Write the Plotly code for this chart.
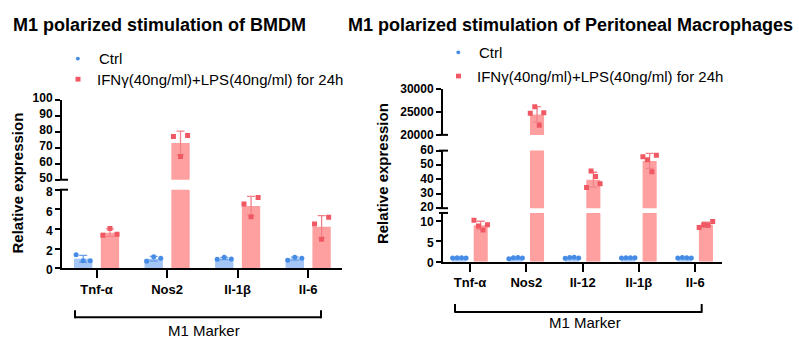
import numpy as np
import plotly.graph_objects as go

# ---------------- data ----------------
left_categories = ["Tnf-α", "Nos2", "Il-1β", "Il-6"]
left_ctrl_points = [[1.37, 0.76, 0.76], [0.72, 1.18, 1.02], [0.92, 1.13, 0.93], [0.82, 1.12, 1.02]]
left_ifn_points = [[3.36, 4.06, 3.45], [77.0, 64.5, 77.6], [6.55, 5.25, 7.2], [4.5, 2.95, 5.2]]
left_lower_ticks = [0, 2, 4, 6, 8]
left_upper_ticks = [50, 60, 70, 80, 90, 100]

right_categories = ["Tnf-α", "Nos2", "Il-12", "Il-1β", "Il-6"]
right_ctrl_points = [[0.95, 1.0, 1.02, 0.95], [0.75, 0.98, 1.08, 0.95], [0.9, 1.05, 1.1, 0.95],
                     [0.95, 1.0, 0.98, 1.0], [0.92, 1.05, 1.0, 0.95]]
right_ifn_points = [[10.2, 8.8, 7.8, 9.1], [24700, 26100, 22100, 24800], [34.3, 45.9, 42.0, 37.0],
                    [55.8, 53.6, 45.3, 56.7], [8.4, 9.1, 9.0, 9.9]]
right_bottom_ticks = [0, 5, 10]
right_middle_ticks = [20, 30, 40, 50, 60]
right_top_ticks = [20000, 25000, 30000]

series_names = ["Ctrl", "IFNγ(40ng/ml)+LPS(40ng/ml) for 24h"]
left_title = "M1 polarized stimulation of BMDM"
right_title = "M1 polarized stimulation of Peritoneal Macrophages"
y_title = "Relative expression"
group_label = "M1 Marker"

# ---------------- style ----------------
W, H = 799, 350
FONT = "Liberation Sans, Arial, sans-serif"
CTRL_BAR = "rgb(163,198,244)"
CTRL_PT = "rgb(70,140,230)"
CTRL_ERR = "rgb(110,160,230)"
IFN_BAR = "rgb(255,160,160)"
IFN_PT = "rgb(240,88,100)"
IFN_ERR = "rgb(242,130,138)"


def X(px):
    return px / W


def Y(py):
    return 1 - py / H


fig = go.Figure()


def add_panel(cats, ctrl_pts, ifn_pts, xname, ynames, jitter, off, bw):
    idx = np.arange(len(cats))
    ctrl_mean = [np.mean(p) for p in ctrl_pts]
    ifn_mean = [np.mean(p) for p in ifn_pts]
    ctrl_sd = [np.std(p, ddof=1) for p in ctrl_pts]
    ifn_sd = [np.std(p, ddof=1) for p in ifn_pts]
    cx, cy, ix, iy = [], [], [], []
    for i in idx:
        for j, v in enumerate(ctrl_pts[i]):
            cx.append(i - off + jitter[j]); cy.append(v)
        for j, v in enumerate(ifn_pts[i]):
            ix.append(i + off + jitter[j]); iy.append(v)
    for yn in ynames:
        fig.add_trace(go.Bar(x=idx - off, y=ctrl_mean, width=bw, marker_color=CTRL_BAR,
                             marker_line_width=0, xaxis=xname, yaxis=yn, showlegend=False,
                             error_y=dict(type="data", array=ctrl_sd, color=CTRL_ERR,
                                          thickness=1.3, width=4)))
        fig.add_trace(go.Bar(x=idx + off, y=ifn_mean, width=bw, marker_color=IFN_BAR,
                             marker_line_width=0, xaxis=xname, yaxis=yn, showlegend=False,
                             error_y=dict(type="data", array=ifn_sd, color=IFN_ERR,
                                          thickness=1.3, width=4)))
        fig.add_trace(go.Scatter(x=cx, y=cy, mode="markers", xaxis=xname, yaxis=yn,
                                 marker=dict(symbol="circle", size=5, color=CTRL_PT),
                                 showlegend=False))
        fig.add_trace(go.Scatter(x=ix, y=iy, mode="markers", xaxis=xname, yaxis=yn,
                                 marker=dict(symbol="square", size=5, color=IFN_PT),
                                 showlegend=False))


add_panel(left_categories, left_ctrl_points, left_ifn_points, "x", ["y", "y2"],
          [-0.1, 0.0, 0.1], 0.19, 0.26)
add_panel(right_categories, right_ctrl_points, right_ifn_points, "x2", ["y3", "y4", "y5"],
          [-0.12, -0.04, 0.04, 0.12], 0.19, 0.25)

xtickfont = dict(family=FONT, size=13, color="black", weight="bold")
ytickfont = dict(family=FONT, size=12, color="black", weight="bold")


def yax(dom, rng, ticks, anchor, shift=0):
    return dict(domain=[Y(dom[0]), Y(dom[1])], range=rng, tickvals=ticks,
                ticktext=[str(t) for t in ticks], anchor=anchor, showgrid=False,
                zeroline=False, showline=True, linecolor="black", linewidth=2,
                ticks="outside", ticklen=5, tickwidth=2, tickcolor="black",
                tickfont=ytickfont, fixedrange=True, ticklabelshift=shift)


def xax(dom, rng, cats, anchor):
    return dict(domain=[X(dom[0]), X(dom[1])], range=rng, tickvals=list(range(len(cats))),
                ticktext=cats, anchor=anchor, showgrid=False, zeroline=False, showline=True,
                linecolor="black", linewidth=2, ticks="outside", ticklen=8, tickwidth=2,
                tickcolor="black", tickfont=xtickfont, fixedrange=True)


L_LOW = (273.3, 190.5)
L_UP = (180.0, 95.7)
R_BOT = (266.5, 215.0)
R_MID = (210.0, 149.3)
R_TOP = (132.7, 84.0)

fig.update_layout(
    width=W, height=H, margin=dict(l=0, r=0, t=0, b=0),
    paper_bgcolor="white", plot_bgcolor="rgba(0,0,0,0)",
    barmode="overlay", showlegend=False,
    font=dict(family=FONT, color="black"),
    xaxis=xax((62, 341.7), [-0.49, 3.475], left_categories, "y"),
    yaxis=yax(L_LOW, [0, 8], left_lower_ticks, "x", 2),
    yaxis2=yax(L_UP, [50, 100], left_upper_ticks, "x", -2),
    xaxis2=xax((443, 721.7), [-0.48, 4.47], right_categories, "y3"),
    yaxis3=yax(R_BOT, [0, 12], right_bottom_ticks, "x2", 1),
    yaxis4=yax(R_MID, [20, 60], right_middle_ticks, "x2", -1),
    yaxis5=yax(R_TOP, [20000, 30000], right_top_ticks, "x2"),
)

shapes = []


def line(x0, y0, x1, y1, w=2):
    shapes.append(dict(type="line", xref="paper", yref="paper", x0=X(x0), y0=Y(y0),
                       x1=X(x1), y1=Y(y1), line=dict(color="black", width=w)))


# axis break marks
for py in [L_LOW[1], L_UP[0]]:
    line(60, py, 68, py)
for py in [R_TOP[0], R_MID[1], R_MID[0], R_BOT[1]]:
    line(439, py, 448, py)

# group brackets
line(75, 325, 321, 325)
line(75, 317.5, 75, 326)
line(321, 317.5, 321, 326)
line(455, 319.3, 701.7, 319.3)
line(455, 311, 455, 320.3)
line(701.7, 311, 701.7, 320.3)

# legend markers
shapes.append(dict(type="circle", xref="paper", yref="paper", x0=X(75.8), x1=X(79.8),
                   y0=Y(54.3), y1=Y(50.3), fillcolor=CTRL_PT, line_width=0))
shapes.append(dict(type="rect", xref="paper", yref="paper", x0=X(75.5), x1=X(80.5),
                   y0=Y(76.5), y1=Y(71.5), fillcolor=IFN_PT, line_width=0))
shapes.append(dict(type="circle", xref="paper", yref="paper", x0=X(456.3), x1=X(460.3),
                   y0=Y(47.7), y1=Y(43.7), fillcolor=CTRL_PT, line_width=0))
shapes.append(dict(type="rect", xref="paper", yref="paper", x0=X(456), x1=X(461),
                   y0=Y(73.2), y1=Y(68.2), fillcolor=IFN_PT, line_width=0))
fig.update_layout(shapes=shapes)

ann = []


def text(s, px, py, size, bold=False, xanchor="left", angle=0):
    ann.append(dict(text=s, x=X(px), y=Y(py), xref="paper", yref="paper",
                    xanchor=xanchor, yanchor="middle", showarrow=False, textangle=angle,
                    font=dict(family=FONT, size=size, color="black",
                              weight="bold" if bold else "normal")))


text(left_title, 11, 17, 18, bold=True)
text(right_title, 346, 17, 18, bold=True)
text(series_names[0], 97, 52.5, 15)
text(series_names[1], 95, 74, 15)
text(series_names[0], 477, 45.5, 15)
text(series_names[1], 475, 71, 15)
text(y_title, 18, 184, 15, bold=True, xanchor="center", angle=-90)
text(y_title, 382, 174, 15, bold=True, xanchor="center", angle=-90)
text(group_label, 204, 338.5, 15, xanchor="center")
text(group_label, 585, 330.5, 15, xanchor="center")
fig.update_layout(annotations=ann)

fig.write_html("out.html")
